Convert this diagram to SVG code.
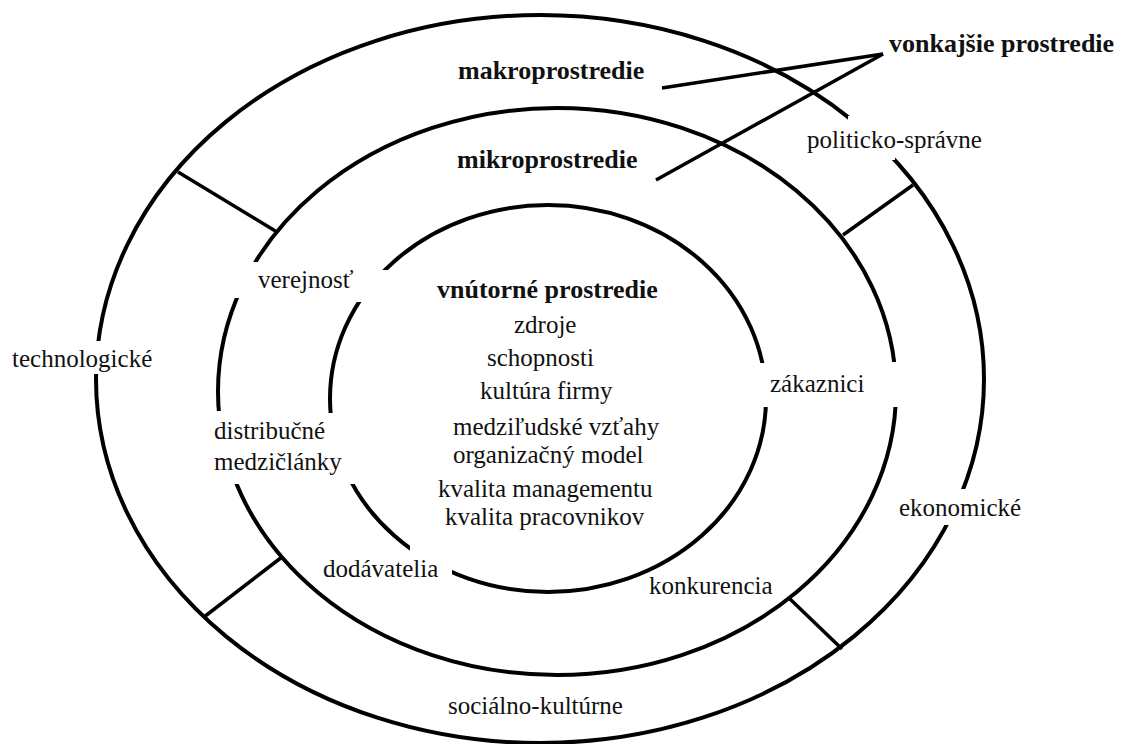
<svg xmlns="http://www.w3.org/2000/svg" width="1122" height="744" viewBox="0 0 1122 744">
<style>
.ring{fill:none;stroke:#000;stroke-width:4}
.ln{stroke:#000;stroke-width:3.5;stroke-linecap:butt;fill:none}
.gap{fill:#fff;stroke:none}
.t{font-family:'Liberation Serif','Tinos','Times New Roman','DejaVu Serif',serif;font-size:25px;fill:#111}
.b{font-weight:bold;font-size:26px}
</style>
<rect width="1122" height="744" fill="#fff"/>
<g id="rings">
<ellipse id="outer" class="ring" cx="540" cy="379" rx="444" ry="364"/>
<ellipse id="middle" class="ring" cx="557" cy="391.5" rx="339" ry="283.5"/>
<ellipse id="inner" class="ring" cx="548" cy="398.5" rx="218" ry="193.5"/>
</g>
<g id="gaps">
<rect class="gap" x="225" y="262" width="40" height="36"/>
<rect class="gap" x="355" y="270" width="40" height="32"/>
<rect class="gap" x="85" y="341" width="25" height="33"/>
<rect class="gap" x="205" y="411" width="40" height="73"/>
<rect class="gap" x="322" y="413" width="38" height="71"/>
<rect class="gap" x="410" y="545" width="42" height="40"/>
<rect class="gap" x="755" y="363" width="25" height="44"/>
<rect class="gap" x="885" y="362" width="22" height="45"/>
<rect class="gap" x="940" y="489" width="60" height="36"/>
<rect class="gap" x="848" y="116" width="47" height="44"/>
</g>
<g id="connectors">
<line class="ln" x1="178" y1="172" x2="277" y2="232"/>
<line class="ln" x1="843" y1="235" x2="913" y2="185"/>
<line class="ln" x1="282" y1="557" x2="204" y2="617"/>
<line class="ln" x1="790" y1="599" x2="842" y2="649"/>
<line class="ln" x1="883" y1="54" x2="662" y2="88"/>
<line class="ln" x1="883" y1="54" x2="656" y2="180"/>
</g>
<g id="vonkajsie"><text class="t b" x="889" y="52">vonkajšie prostredie</text></g>
<g id="makro"><text class="t b" x="458" y="79">makroprostredie</text></g>
<g id="mikro"><text class="t b" x="457" y="168">mikroprostredie</text></g>
<g id="vnutorne">
<text class="t b" x="437" y="298">vnútorné prostredie</text>
<text class="t" x="514" y="333">zdroje</text>
<text class="t" x="487" y="366">schopnosti</text>
<text class="t" x="480" y="399">kultúra firmy</text>
<text class="t" x="453" y="435">medziľudské vzťahy</text>
<text class="t" x="453" y="463">organizačný model</text>
<text class="t" x="438" y="497">kvalita managementu</text>
<text class="t" x="445" y="525">kvalita pracovnikov</text>
</g>
<g id="politicko"><text class="t" x="807" y="148">politicko-správne</text></g>
<g id="technologicke"><text class="t" x="12" y="367">technologické</text></g>
<g id="ekonomicke"><text class="t" x="899" y="516">ekonomické</text></g>
<g id="socialno"><text class="t" x="448" y="714">sociálno-kultúrne</text></g>
<g id="verejnost"><text class="t" x="258" y="288">verejnosť</text></g>
<g id="distribucne"><text class="t" x="214" y="439">distribučné</text><text class="t" x="214" y="470">medzičlánky</text></g>
<g id="dodavatelia"><text class="t" x="323" y="577">dodávatelia</text></g>
<g id="zakaznici"><text class="t" x="770" y="392">zákaznici</text></g>
<g id="konkurencia"><text class="t" x="649" y="594">konkurencia</text></g>
</svg>
